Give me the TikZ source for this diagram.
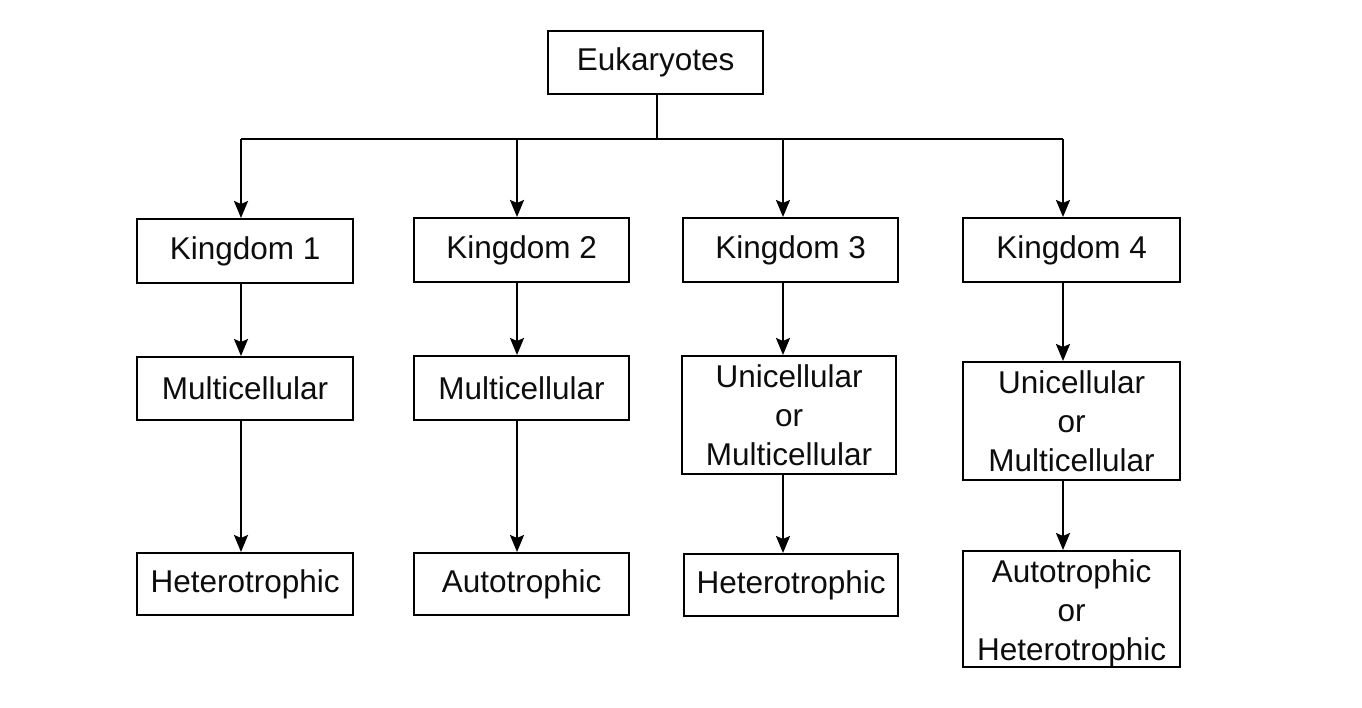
\documentclass[tikz,border=0pt]{standalone}
\usepackage{fontspec}
\setmainfont{Liberation Sans}
\usetikzlibrary{arrows.meta}
\begin{document}
\begin{tikzpicture}[x=1pt,y=-1pt,
  box/.style={draw, line width=2.2pt, inner sep=0pt, align=center, anchor=north west,
    font=\fontsize{31.5}{39}\selectfont, text=black!95},
  conn/.style={line width=2.2pt},
  arr/.style={conn, -{Stealth[length=17pt,width=14pt,inset=3pt]}}]
\useasboundingbox (0,0) rectangle (1362,708);
% boxes
\node[box, minimum width=215pt, minimum height=63pt] (euk) at (547,30) {Eukaryotes};
\node[box, minimum width=216pt, minimum height=64pt] (k1) at (136,218) {Kingdom 1};
\node[box, minimum width=215pt, minimum height=64pt] (k2) at (413,217) {Kingdom 2};
\node[box, minimum width=215pt, minimum height=64pt] (k3) at (682,217) {Kingdom 3};
\node[box, minimum width=217pt, minimum height=64pt] (k4) at (962,217) {Kingdom 4};
\node[box, minimum width=216pt, minimum height=63pt] (m1) at (136,356) {Multicellular};
\node[box, minimum width=215pt, minimum height=64pt] (m2) at (413,355) {Multicellular};
\node[box, minimum width=214pt, minimum height=118pt] (u3) at (681,355) {Unicellular\\or\\Multicellular};
\node[box, minimum width=217pt, minimum height=118pt] (u4) at (962,361) {Unicellular\\or\\Multicellular};
\node[box, minimum width=216pt, minimum height=62pt] (h1) at (136,552) {Heterotrophic};
\node[box, minimum width=215pt, minimum height=62pt] (a2) at (413,552) {Autotrophic};
\node[box, minimum width=214pt, minimum height=62pt] (h3) at (683,553) {Heterotrophic};
\node[box, minimum width=217pt, minimum height=115pt] (a4) at (962,550) {\rule{0pt}{31pt}Autotrophic\\or\\Heterotrophic};
% bus coordinates
\coordinate (b0) at (657,139);
\coordinate (b1) at (241,139);
\coordinate (b2) at (517,139);
\coordinate (b3) at (783,139);
\coordinate (b4) at (1063,139);
% connectors
\draw[conn] (euk.south -| b0) -- (b0);
\draw[conn] (b1) -- (b4);
\draw[arr] (b1) -- (b1 |- k1.north);
\draw[arr] (b2) -- (b2 |- k2.north);
\draw[arr] (b3) -- (b3 |- k3.north);
\draw[arr] (b4) -- (b4 |- k4.north);
\draw[arr] (b1 |- k1.south) -- (b1 |- m1.north);
\draw[arr] (b2 |- k2.south) -- (b2 |- m2.north);
\draw[arr] (b3 |- k3.south) -- (b3 |- u3.north);
\draw[arr] (b4 |- k4.south) -- (b4 |- u4.north);
\draw[arr] (b1 |- m1.south) -- (b1 |- h1.north);
\draw[arr] (b2 |- m2.south) -- (b2 |- a2.north);
\draw[arr] (b3 |- u3.south) -- (b3 |- h3.north);
\draw[arr] (b4 |- u4.south) -- (b4 |- a4.north);
\end{tikzpicture}
\end{document}
